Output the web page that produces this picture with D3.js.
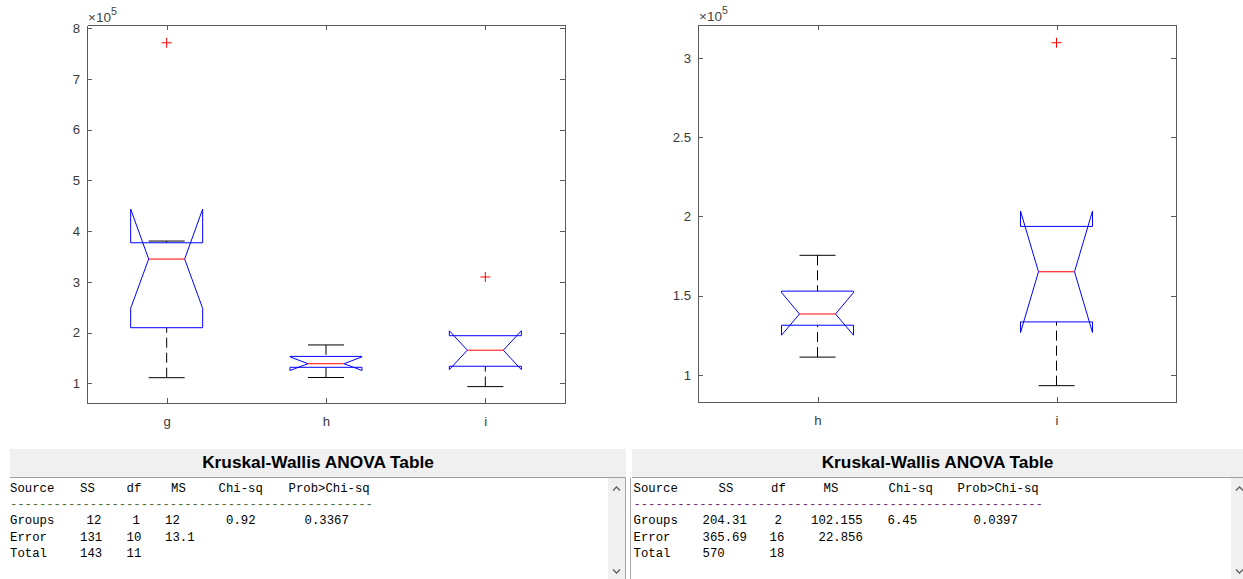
<!DOCTYPE html>
<html>
<head>
<meta charset="utf-8">
<script src="https://cdn.jsdelivr.net/npm/d3@7"></script>
<style>
  html, body { margin: 0; padding: 0; background: #fff; }
  svg { display: block; }
  .axis text { font-family: "Liberation Sans", Arial, Helvetica, sans-serif; font-size: 13.2px; fill: #3a3a3a; }
  .axis path, .axis line { stroke: #5a5a5a; shape-rendering: crispEdges; }
  .mult { font-family: "Liberation Sans", Arial, Helvetica, sans-serif; font-size: 13.5px; fill: #444; }
  .ttl { font-family: "Liberation Sans", Arial, Helvetica, sans-serif; font-size: 17.3px; font-weight: bold; fill: #000; }
  .mono { font-family: "Liberation Mono", "Courier New", monospace; font-size: 12.3px; fill: #000; }
</style>
</head>
<body>
<svg id="chart" width="1243" height="579"></svg>
<script>
// ---- Box statistics (values in units of 1e5) ----
const groupNames   = ["g", "h", "i"];
const lowerWhisker = [1.109, 1.113, 0.933];
const quartile1    = [2.095, 1.314, 1.335];
const medians      = [3.449, 1.385, 1.651];
const quartile3    = [3.770, 1.529, 1.937];
const upperWhisker = [3.804, 1.755, 1.937];
const notchLow     = [2.477, 1.251, 1.268];
const notchHigh    = [4.435, 1.520, 2.034];
const outlierValues = [[7.714], [], [3.095]];

// ---- Plot panels ----
const leftGroups  = ["g", "h", "i"];
const rightGroups = ["h", "i"];
const leftYDomain  = [0.61, 8.065];
const rightYDomain = [0.83, 3.21];
const leftYTicks  = [1, 2, 3, 4, 5, 6, 7, 8];
const rightYTicks = [1, 1.5, 2, 2.5, 3];
const exponentText = "5";

// ---- Kruskal-Wallis ANOVA tables ----
const tableTitle   = "Kruskal-Wallis ANOVA Table";
const tableColumns = ["Source", "SS", "df", "MS", "Chi-sq", "Prob>Chi-sq"];
const leftTableRows = [
  ["Groups", "12", "1", "12", "0.92", "0.3367"],
  ["Error", "131", "10", "13.1"],
  ["Total", "143", "11"]
];
const rightTableRows = [
  ["Groups", "204.31", "2", "102.155", "6.45", "0.0397"],
  ["Error", "365.69", "16", "22.856"],
  ["Total", "570", "18"]
];

const svg = d3.select("#chart");

// ---------------- box plots ----------------
function boxPlot(panel, groups, yDomain, yTicks) {
  const g = svg.append("g");
  const x = d3.scalePoint().domain(groups).range([panel.x0, panel.x1]).padding(0.5);
  const y = d3.scaleLinear().domain(yDomain).range([panel.y1, panel.y0]);

  // axes box with inward ticks on all four sides
  g.append("g").attr("class", "axis").attr("transform", `translate(${panel.x0},0)`)
    .call(d3.axisLeft(y).tickValues(yTicks).tickFormat(d3.format("~g"))
      .tickSize(-5).tickSizeOuter(0).tickPadding(7));
  g.append("g").attr("class", "axis").attr("transform", `translate(${panel.x1},0)`)
    .call(d3.axisRight(y).tickValues(yTicks).tickFormat("").tickSize(-5).tickSizeOuter(0));
  g.append("g").attr("class", "axis").attr("transform", `translate(0,${panel.y0})`)
    .call(d3.axisTop(x).tickFormat("").tickSize(-5).tickSizeOuter(0));
  g.append("g").attr("class", "axis").attr("transform", `translate(0,${panel.y1})`)
    .call(d3.axisBottom(x).tickSize(-5).tickSizeOuter(0).tickPadding(13.5));
  g.selectAll(".axis .domain").attr("stroke", "#5a5a5a");

  // exponent multiplier
  const m = g.append("text").attr("class", "mult")
    .attr("x", panel.x0 + 1).attr("y", panel.y0 - 3.5);
  m.append("tspan").text("\u00d710");
  m.append("tspan").attr("dy", -7).attr("font-size", "10.5px").text(exponentText);

  const half = 36, inset = 18, cap = 18;
  const outline = d3.line();

  groups.forEach(name => {
    const k = groupNames.indexOf(name);
    const cx = x(name);

    // whiskers (dashed) and caps
    [[upperWhisker[k], quartile3[k]], [lowerWhisker[k], quartile1[k]]].forEach(([w, q]) => {
      if (Math.abs(y(w) - y(q)) < 0.5) return;
      g.append("line").attr("x1", cx).attr("x2", cx).attr("y1", y(w)).attr("y2", y(q))
        .attr("stroke", "#000").attr("stroke-width", 1).attr("stroke-dasharray", "10,5");
      g.append("line").attr("x1", cx - cap).attr("x2", cx + cap).attr("y1", y(w)).attr("y2", y(w))
        .attr("stroke", "#000").attr("stroke-width", 1);
    });

    // notched box
    const pts = [
      [cx - half, y(quartile1[k])], [cx - half, y(notchLow[k])], [cx - inset, y(medians[k])],
      [cx - half, y(notchHigh[k])], [cx - half, y(quartile3[k])], [cx + half, y(quartile3[k])],
      [cx + half, y(notchHigh[k])], [cx + inset, y(medians[k])], [cx + half, y(notchLow[k])],
      [cx + half, y(quartile1[k])], [cx - half, y(quartile1[k])]
    ];
    g.append("path").attr("d", outline(pts)).attr("fill", "none")
      .attr("stroke", "#0000ff").attr("stroke-width", 1).attr("stroke-linejoin", "miter");

    // median
    g.append("line").attr("x1", cx - inset).attr("x2", cx + inset)
      .attr("y1", y(medians[k])).attr("y2", y(medians[k]))
      .attr("stroke", "#ff0000").attr("stroke-width", 1);

    // outliers
    outlierValues[k].forEach(v => {
      g.append("path").attr("d", "M-5,0H5M0,-5V5")
        .attr("transform", `translate(${cx},${y(v)})`)
        .attr("stroke", "#ff0000").attr("stroke-width", 1).attr("fill", "none");
    });
  });
}

boxPlot({ x0: 87, x1: 565, y0: 25, y1: 403 }, leftGroups, leftYDomain, leftYTicks);
boxPlot({ x0: 698, x1: 1176, y0: 24.5, y1: 402 }, rightGroups, rightYDomain, rightYTicks);

// ---------------- ANOVA tables ----------------
function anovaTable(panel, rows, layout) {
  const g = svg.append("g");
  // title band
  g.append("rect").attr("x", panel.x0).attr("y", 449).attr("width", panel.x1 - panel.x0)
    .attr("height", 28).attr("fill", "#f0f0f0");
  g.append("line").attr("x1", panel.x0).attr("x2", panel.x1).attr("y1", 477.5).attr("y2", 477.5)
    .attr("stroke", "#a0a0a0");
  g.append("text").attr("class", "ttl").attr("text-anchor", "middle")
    .attr("x", (panel.x0 + panel.x1) / 2).attr("y", 467.5).text(tableTitle);

  // side border of text area
  if (panel.border != null) {
    g.append("line").attr("x1", panel.border).attr("x2", panel.border)
      .attr("y1", 477.5).attr("y2", 579).attr("stroke", "#a8a8a8");
  }

  // scrollbar
  g.append("rect").attr("x", panel.sx).attr("y", 478).attr("width", panel.sw).attr("height", 101)
    .attr("fill", "#f0f0f0");
  const ax = panel.sx + 8.5;
  g.append("path").attr("d", `M${ax - 3.5},${490.5}L${ax},${487}L${ax + 3.5},${490.5}`)
    .attr("fill", "none").attr("stroke", "#606060").attr("stroke-width", 1.3);
  g.append("path").attr("d", `M${ax - 3.5},${569.5}L${ax},${573}L${ax + 3.5},${569.5}`)
    .attr("fill", "none").attr("stroke", "#606060").attr("stroke-width", 1.3);

  // column header
  tableColumns.forEach((c, j) => {
    g.append("text").attr("class", "mono").attr("x", layout.header[j]).attr("y", 491.7).text(c);
  });
  // rule
  g.append("text").attr("class", "mono").attr("x", layout.rule[0]).attr("y", 508)
    .attr("textLength", layout.rule[1] - layout.rule[0]).attr("lengthAdjust", "spacing")
    .style("fill", layout.ruleColor)
    .text("-".repeat(layout.ruleCount));
  // body rows
  rows.forEach((r, i) => {
    r.forEach((c, j) => {
      g.append("text").attr("class", "mono").attr("x", layout.rows[i][j])
        .attr("y", 524.3 + 16.3 * i).text(c);
    });
  });
}

anovaTable({ x0: 10, x1: 626, sx: 608, sw: 17, border: 625.5 }, leftTableRows, {
  header: [10, 80, 126.5, 171, 218.5, 288.5],
  rows: [
    [10, 86.5, 132.5, 165, 226, 304.5],
    [10, 80, 126.5, 165],
    [10, 80, 126.5]
  ],
  rule: [10, 373],
  ruleCount: 50,
  ruleColor: "#4f6e33"
});

anovaTable({ x0: 632, x1: 1243, sx: 1231, sw: 12, border: 630.5 }, rightTableRows, {
  header: [633.5, 718.5, 771, 823.5, 888.5, 957.5],
  rows: [
    [633.5, 702.5, 774.5, 811, 887.5, 973.5],
    [633.5, 702.5, 769.5, 818.5],
    [633.5, 702.5, 769.5]
  ],
  rule: [633.5, 1043],
  ruleCount: 56,
  ruleColor: "#6e3370"
});
</script>
</body>
</html>
